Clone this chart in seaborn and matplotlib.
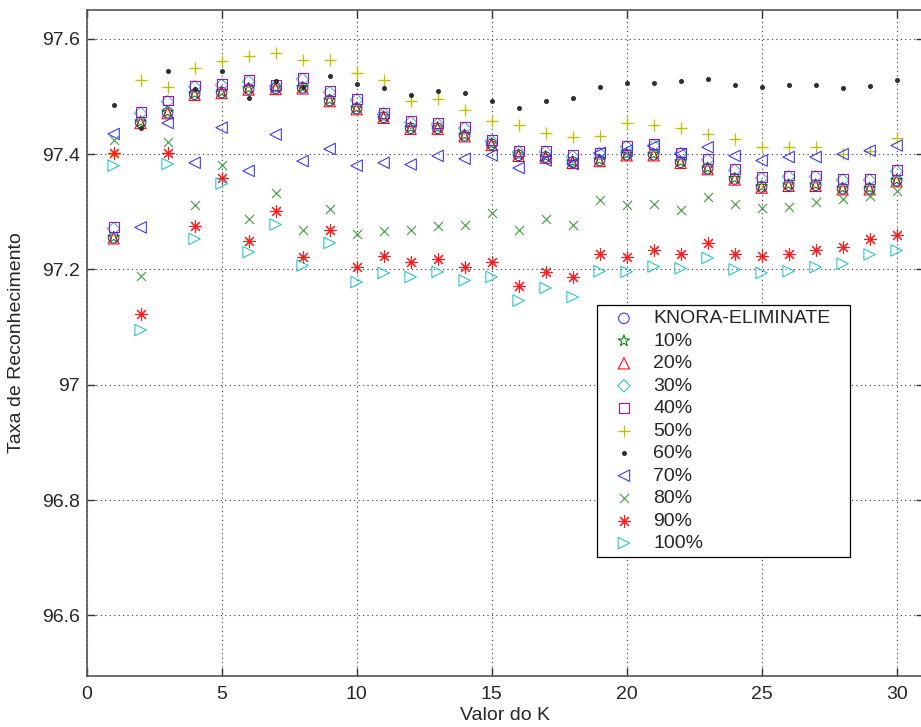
import matplotlib
matplotlib.use("Agg")
import matplotlib.pyplot as plt
import seaborn as sns
import pandas as pd

# Recognition rate for each neighbourhood size K, per method / pruning level
k_values = list(range(1, 31))

knora = [97.255, 97.455, 97.472, 97.504, 97.507, 97.513, 97.514, 97.515, 97.493, 97.479,
         97.464, 97.445, 97.445, 97.432, 97.417, 97.398, 97.395, 97.386, 97.389, 97.399,
         97.399, 97.386, 97.375, 97.357, 97.343, 97.346, 97.346, 97.340, 97.340, 97.354]
p10 = [97.256, 97.456, 97.473, 97.505, 97.508, 97.514, 97.515, 97.516, 97.494, 97.480,
       97.465, 97.446, 97.446, 97.433, 97.418, 97.399, 97.396, 97.387, 97.390, 97.400,
       97.400, 97.387, 97.376, 97.358, 97.344, 97.347, 97.347, 97.341, 97.341, 97.355]
p20 = [97.254, 97.454, 97.471, 97.503, 97.506, 97.512, 97.513, 97.514, 97.492, 97.478,
       97.463, 97.444, 97.444, 97.431, 97.416, 97.397, 97.394, 97.385, 97.388, 97.398,
       97.398, 97.385, 97.374, 97.356, 97.342, 97.345, 97.345, 97.339, 97.339, 97.353]
p30 = [97.271, 97.471, 97.491, 97.517, 97.520, 97.526, 97.518, 97.530, 97.507, 97.494,
       97.470, 97.455, 97.452, 97.445, 97.423, 97.404, 97.404, 97.396, 97.401, 97.413,
       97.415, 97.401, 97.390, 97.372, 97.358, 97.361, 97.361, 97.355, 97.355, 97.370]
p40 = [97.273, 97.473, 97.493, 97.519, 97.522, 97.528, 97.520, 97.532, 97.509, 97.496,
       97.472, 97.457, 97.454, 97.447, 97.425, 97.406, 97.406, 97.398, 97.403, 97.415,
       97.417, 97.403, 97.392, 97.374, 97.360, 97.363, 97.363, 97.357, 97.357, 97.372]
p50 = [97.401, 97.528, 97.517, 97.550, 97.562, 97.571, 97.576, 97.563, 97.563, 97.540,
       97.528, 97.492, 97.496, 97.477, 97.458, 97.450, 97.437, 97.430, 97.432, 97.454,
       97.451, 97.445, 97.435, 97.427, 97.412, 97.412, 97.412, 97.401, 97.406, 97.428]
p60 = [97.486, 97.445, 97.545, 97.513, 97.545, 97.497, 97.527, 97.516, 97.535, 97.521,
       97.515, 97.502, 97.509, 97.506, 97.493, 97.480, 97.493, 97.497, 97.517, 97.524,
       97.524, 97.527, 97.531, 97.520, 97.516, 97.520, 97.520, 97.515, 97.518, 97.529]
p70 = [97.435, 97.273, 97.454, 97.385, 97.446, 97.371, 97.434, 97.388, 97.409, 97.380,
       97.385, 97.382, 97.397, 97.392, 97.398, 97.376, 97.389, 97.383, 97.402, 97.406,
       97.414, 97.400, 97.412, 97.397, 97.389, 97.395, 97.395, 97.400, 97.406, 97.415]
p80 = [97.425, 97.189, 97.421, 97.311, 97.382, 97.288, 97.332, 97.268, 97.305, 97.262,
       97.266, 97.269, 97.275, 97.278, 97.298, 97.268, 97.287, 97.278, 97.320, 97.311,
       97.313, 97.304, 97.325, 97.314, 97.307, 97.309, 97.317, 97.323, 97.327, 97.336]
p90 = [97.402, 97.123, 97.402, 97.276, 97.359, 97.249, 97.301, 97.222, 97.268, 97.205,
       97.223, 97.213, 97.218, 97.205, 97.213, 97.171, 97.196, 97.187, 97.226, 97.222,
       97.233, 97.227, 97.246, 97.227, 97.223, 97.226, 97.233, 97.239, 97.252, 97.259]
p100 = [97.380, 97.095, 97.383, 97.253, 97.349, 97.230, 97.278, 97.207, 97.246, 97.178,
        97.194, 97.187, 97.196, 97.181, 97.187, 97.146, 97.168, 97.152, 97.197, 97.196,
        97.205, 97.202, 97.220, 97.200, 97.194, 97.197, 97.204, 97.210, 97.226, 97.233]

series_names = ["KNORA-ELIMINATE", "10%", "20%", "30%", "40%", "50%",
                "60%", "70%", "80%", "90%", "100%"]
series_values = [knora, p10, p20, p30, p40, p50, p60, p70, p80, p90, p100]

x_ticks = [0, 5, 10, 15, 20, 25, 30]
y_ticks = [96.6, 96.8, 97.0, 97.2, 97.4, 97.6]
y_tick_labels = ["96.6", "96.8", "97", "97.2", "97.4", "97.6"]

# Marker style per series: (marker, size, colour, hollow, line width)
styles = {
    "KNORA-ELIMINATE": ("o", 58, "#2b2bff", True, 0.75),
    "10%": ("*", 75, "#008000", True, 0.75),
    "20%": ("^", 66, "#ff0000", True, 0.75),
    "30%": ("D", 40, "#1fc4c4", True, 0.75),
    "40%": ("s", 50, "#c000c0", True, 0.75),
    "50%": ("+", 78, "#bfbf00", False, 0.95),
    "60%": ("o", 8, "#303030", False, 0.75),
    "70%": ("<", 68, "#3030ff", True, 0.75),
    "80%": ("x", 42, "#4aa04a", False, 0.85),
    "90%": ((8, 2, 0), 72, "#ff1a1a", False, 0.8),
    "100%": (">", 68, "#1fc4c4", True, 0.75),
}

df = pd.DataFrame({
    "K": k_values * len(series_names),
    "taxa": [v for vals in series_values for v in vals],
    "serie": [n for n in series_names for _ in k_values],
})

sns.set_style("ticks")
plt.rcParams["font.family"] = ["Liberation Sans", "DejaVu Sans"]

fig = plt.figure(figsize=(9.21, 7.27), dpi=100)
ax = fig.add_axes([86.6 / 921, 51 / 727, 837 / 921, 666 / 727])

for name in series_names:
    marker, size, color, hollow, lw = styles[name]
    sub = df[df["serie"] == name]
    kw = dict(marker=marker, s=size, linewidth=lw, label=name, zorder=3)
    if hollow:
        kw.update(facecolor="none", edgecolor=color, color=color)
    elif name == "60%":
        kw.update(facecolor=color, edgecolor=color, color=color)
    else:
        kw.update(color=color)
    sns.scatterplot(data=sub, x="K", y="taxa", ax=ax, legend=False, **kw)

ax.set_xlim(0, 31)
ax.set_ylim(96.495, 97.65)
ax.set_xticks(x_ticks)
ax.set_yticks(y_ticks)
ax.set_yticklabels(y_tick_labels)
ax.tick_params(axis="both", direction="in", length=6, width=1.0, labelsize=14,
               top=True, right=True, color="#333333")
ax.tick_params(axis="x", pad=7)
ax.tick_params(axis="y", pad=5)
ax.grid(True, color="#333333", linestyle=(0, (1, 3)), linewidth=0.8)
for sp in ax.spines.values():
    sp.set_color("#555555")
    sp.set_linewidth(1.2)

ax.set_xlabel("Valor do K", fontsize=14, labelpad=3)
ax.set_ylabel("Taxa de Reconhecimento", fontsize=14, labelpad=12)

leg = ax.legend(loc="upper left", mode="expand",
                bbox_to_anchor=(596.7 / 921, (727 - 557.7) / 727,
                                (850 - 596.7) / 921, (557.7 - 305) / 727),
                bbox_transform=fig.transFigure, borderaxespad=0,
                fontsize=14, scatterpoints=1, frameon=True, fancybox=False,
                framealpha=1, edgecolor="black", borderpad=0.25,
                handlelength=2.3, handletextpad=0.35, labelspacing=0.25)
leg.get_frame().set_linewidth(0.9)

fig.savefig("out.png", dpi=100, facecolor="white")
